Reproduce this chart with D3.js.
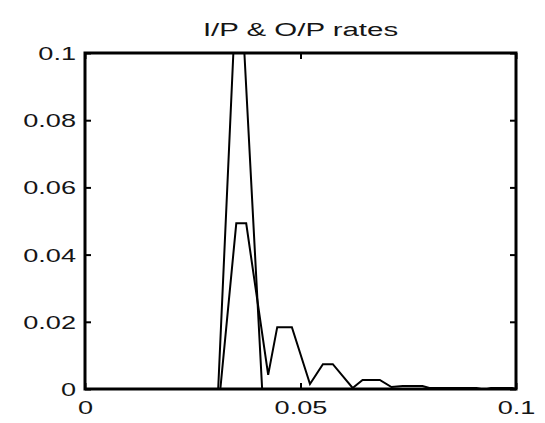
<!DOCTYPE html>
<html>
<head>
<meta charset="utf-8">
<script src="https://cdn.jsdelivr.net/npm/d3@7"></script>
<style>
  html, body { margin: 0; padding: 0; background: #fff; }
  svg { display: block; }
  text { font-family: "Liberation Sans", Arial, sans-serif; fill: #151515; }
</style>
</head>
<body>
<svg id="chart" width="545" height="423"></svg>
<script>
// Axis ticks
const xTicks = [0, 0.05, 0.1];
const yTicks = [0, 0.02, 0.04, 0.06, 0.08, 0.1];

// Input rate: a single sharp spike (rises above the plotted range)
const inRateX = [0, 0.0309, 0.0356, 0.0411, 0.1];
const inRateY = [0, 0, 0.1335, 0, 0];

// Output rate: smoothed peak followed by decaying ripples
const outRateX = [0, 0.0314, 0.0351, 0.0374, 0.0425, 0.0446, 0.0480, 0.0522,
                  0.0552, 0.0575, 0.0621, 0.0644, 0.0684, 0.0711, 0.0737,
                  0.0783, 0.0799, 0.0908, 0.0919, 0.0933, 0.0942, 0.0991, 0.1];
const outRateY = [0, 0, 0.0493, 0.0493, 0.0042, 0.0184, 0.0184, 0.0015,
                  0.0074, 0.0074, 0.0003, 0.0027, 0.0027, 0.0006, 0.0009,
                  0.0009, 0.0003, 0.0003, 0, 0, 0.0003, 0.0003, 0];

const title = "I/P & O/P rates";

const svg = d3.select("#chart");
const plotLeft = 85, plotRight = 516, plotTop = 53, plotBottom = 389;
const stretch = 1.55; // wide glyphs

const x = d3.scaleLinear().domain([0, 0.1]).range([plotLeft, plotRight]);
const y = d3.scaleLinear().domain([0, 0.1]).range([plotBottom, plotTop]);

// Clip lines to the plotting area
svg.append("defs").append("clipPath").attr("id", "plotClip")
  .append("rect").attr("x", plotLeft).attr("y", plotTop)
  .attr("width", plotRight - plotLeft).attr("height", plotBottom - plotTop);

const line = d3.line().x(d => x(d[0])).y(d => y(d[1]));
const series = [
  d3.zip(inRateX, inRateY),
  d3.zip(outRateX, outRateY)
];
svg.append("g").attr("clip-path", "url(#plotClip)")
  .selectAll("path").data(series).join("path")
  .attr("d", line)
  .attr("fill", "none")
  .attr("stroke", "#000")
  .attr("stroke-width", 2)
  .attr("stroke-linejoin", "miter");

// Axes with inward ticks
const fmt = d => String(d);
const tickLen = 6;
function styleAxis(g) {
  g.select(".domain").remove();
  g.selectAll(".tick line").attr("stroke", "#000").attr("stroke-width", 2);
}

const gBottom = svg.append("g").attr("transform", `translate(0,${plotBottom})`)
  .call(d3.axisBottom(x).tickValues(xTicks).tickFormat(fmt).tickSizeInner(-tickLen).tickSizeOuter(0))
  .call(styleAxis);
gBottom.selectAll(".tick text")
  .attr("y", null).attr("dy", null)
  .attr("transform", "translate(0,25) scale(" + stretch + ",1)")
  .attr("font-size", 17.5).attr("text-anchor", "middle")
  .style("fill", "#151515");

svg.append("g").attr("transform", `translate(0,${plotTop})`)
  .call(d3.axisTop(x).tickValues(xTicks).tickFormat("").tickSizeInner(-tickLen).tickSizeOuter(0))
  .call(styleAxis);

const gLeft = svg.append("g").attr("transform", `translate(${plotLeft},0)`)
  .call(d3.axisLeft(y).tickValues(yTicks).tickFormat(fmt).tickSizeInner(-tickLen).tickSizeOuter(0))
  .call(styleAxis);
gLeft.selectAll(".tick text")
  .attr("x", null).attr("dy", null)
  .attr("transform", "translate(-9,6.5) scale(" + stretch + ",1)")
  .attr("font-size", 17.5).attr("text-anchor", "end")
  .style("fill", "#151515");

svg.append("g").attr("transform", `translate(${plotRight},0)`)
  .call(d3.axisRight(y).tickValues(yTicks).tickFormat("").tickSizeInner(-tickLen).tickSizeOuter(0))
  .call(styleAxis);

// Frame
svg.append("rect")
  .attr("x", plotLeft).attr("y", plotTop)
  .attr("width", plotRight - plotLeft).attr("height", plotBottom - plotTop)
  .attr("fill", "none").attr("stroke", "#000").attr("stroke-width", 3);

// Title
svg.append("text")
  .attr("transform", `translate(${(plotLeft + plotRight) / 2},36) scale(${stretch},1)`)
  .attr("text-anchor", "middle")
  .attr("font-size", 19)
  .text(title);
</script>
</body>
</html>
